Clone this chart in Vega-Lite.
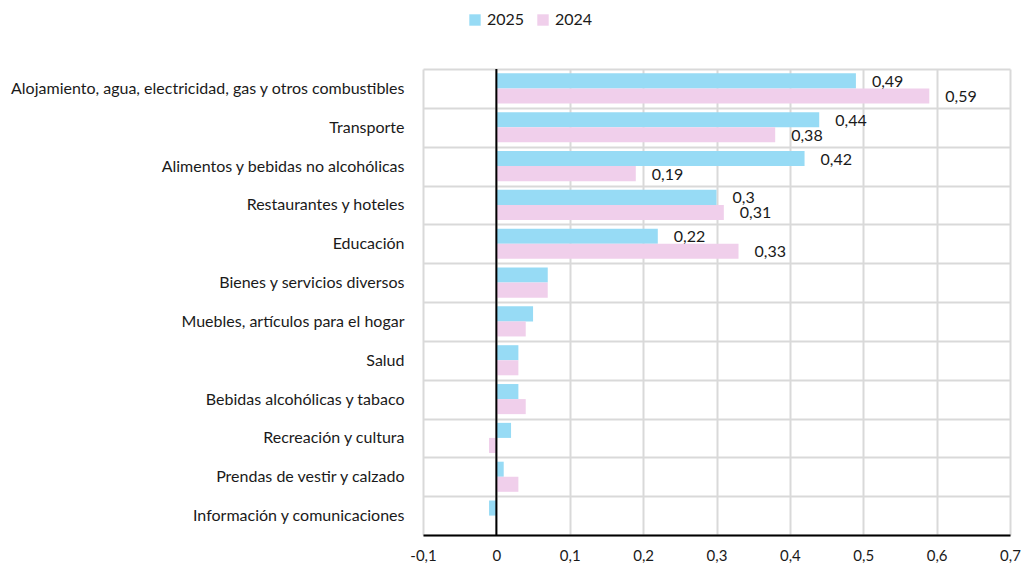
{
  "$schema": "https://vega.github.io/schema/vega-lite/v6.json",
  "width": 587,
  "height": 466,
  "autosize": {"type": "none"},
  "padding": {"left": 423, "top": 69, "right": 12, "bottom": 36},
  "background": "white",
  "config": {
    "font": "Lato",
    "view": {"stroke": null},
    "locale": {"number": {"decimal": ",", "thousands": ".", "grouping": [3], "currency": ["", " €"], "minus": "-"}}
  },
  "data": {
    "values": [
      {"cat": "Alojamiento, agua, electricidad, gas y otros combustibles", "serie": "2025", "value": 0.49},
      {"cat": "Alojamiento, agua, electricidad, gas y otros combustibles", "serie": "2024", "value": 0.59},
      {"cat": "Transporte", "serie": "2025", "value": 0.44},
      {"cat": "Transporte", "serie": "2024", "value": 0.38},
      {"cat": "Alimentos y bebidas no alcohólicas", "serie": "2025", "value": 0.42},
      {"cat": "Alimentos y bebidas no alcohólicas", "serie": "2024", "value": 0.19},
      {"cat": "Restaurantes y hoteles", "serie": "2025", "value": 0.3},
      {"cat": "Restaurantes y hoteles", "serie": "2024", "value": 0.31},
      {"cat": "Educación", "serie": "2025", "value": 0.22},
      {"cat": "Educación", "serie": "2024", "value": 0.33},
      {"cat": "Bienes y servicios diversos", "serie": "2025", "value": 0.07},
      {"cat": "Bienes y servicios diversos", "serie": "2024", "value": 0.07},
      {"cat": "Muebles, artículos para el hogar", "serie": "2025", "value": 0.05},
      {"cat": "Muebles, artículos para el hogar", "serie": "2024", "value": 0.04},
      {"cat": "Salud", "serie": "2025", "value": 0.03},
      {"cat": "Salud", "serie": "2024", "value": 0.03},
      {"cat": "Bebidas alcohólicas y tabaco", "serie": "2025", "value": 0.03},
      {"cat": "Bebidas alcohólicas y tabaco", "serie": "2024", "value": 0.04},
      {"cat": "Recreación y cultura", "serie": "2025", "value": 0.02},
      {"cat": "Recreación y cultura", "serie": "2024", "value": -0.01},
      {"cat": "Prendas de vestir y calzado", "serie": "2025", "value": 0.01},
      {"cat": "Prendas de vestir y calzado", "serie": "2024", "value": 0.03},
      {"cat": "Información y comunicaciones", "serie": "2025", "value": -0.01},
      {"cat": "Información y comunicaciones", "serie": "2024", "value": 0.0}
    ]
  },
  "encoding": {
    "y": {
      "field": "cat",
      "type": "nominal",
      "sort": null,
      "scale": {"paddingInner": 0, "paddingOuter": 0},
      "axis": {
        "title": null,
        "domain": false,
        "ticks": false,
        "grid": true,
        "tickBand": "extent",
        "gridColor": "#d9d9d9",
        "gridWidth": 2,
        "labelFontSize": 16,
        "labelColor": "#1a1a1a",
        "labelPadding": 19,
        "labelLimit": 500
      }
    },
    "yOffset": {
      "field": "serie",
      "type": "nominal",
      "sort": ["2025", "2024"],
      "scale": {"paddingInner": 0, "paddingOuter": 0.29}
    },
    "x": {
      "field": "value",
      "type": "quantitative",
      "scale": {"domain": [-0.1, 0.7], "nice": false, "zero": false},
      "axis": {
        "title": null,
        "values": [-0.1, 0, 0.1, 0.2, 0.3, 0.4, 0.5, 0.6, 0.7],
        "format": "~g",
        "grid": true,
        "gridColor": "#d9d9d9",
        "gridWidth": 2,
        "ticks": false,
        "domainColor": "#000000",
        "domainWidth": 2,
        "labelFontSize": 15,
        "labelColor": "#1a1a1a",
        "labelPadding": 13,
        "labelFlush": false,
        "labelOverlap": false
      }
    }
  },
  "layer": [
    {
      "mark": {"type": "bar"},
      "encoding": {
        "color": {
          "field": "serie",
          "type": "nominal",
          "sort": ["2025", "2024"],
          "scale": {"domain": ["2025", "2024"], "range": ["#97dbf5", "#f0cfeb"]},
          "legend": {
            "title": null,
            "orient": "none",
            "direction": "horizontal",
            "legendX": 44,
            "legendY": -57,
            "symbolType": "square",
            "symbolSize": 130,
            "symbolStrokeWidth": 0,
            "labelFontSize": 16,
            "labelColor": "#1a1a1a",
            "columnPadding": 10,
            "labelOffset": 4
          }
        }
      }
    },
    {
      "transform": [{"filter": "datum.value >= 0.1"}],
      "mark": {"type": "text", "align": "left", "baseline": "middle", "dx": 16, "dy": 1, "fontSize": 16, "color": "#1a1a1a"},
      "encoding": {
        "text": {"field": "value", "type": "quantitative", "format": "~g"}
      }
    },
    {
      "data": {"values": [{"zero": 0}]},
      "mark": {"type": "rule", "color": "#000000", "strokeWidth": 2},
      "encoding": {
        "x": {"field": "zero", "type": "quantitative"},
        "y": null,
        "yOffset": null
      }
    }
  ]
}
